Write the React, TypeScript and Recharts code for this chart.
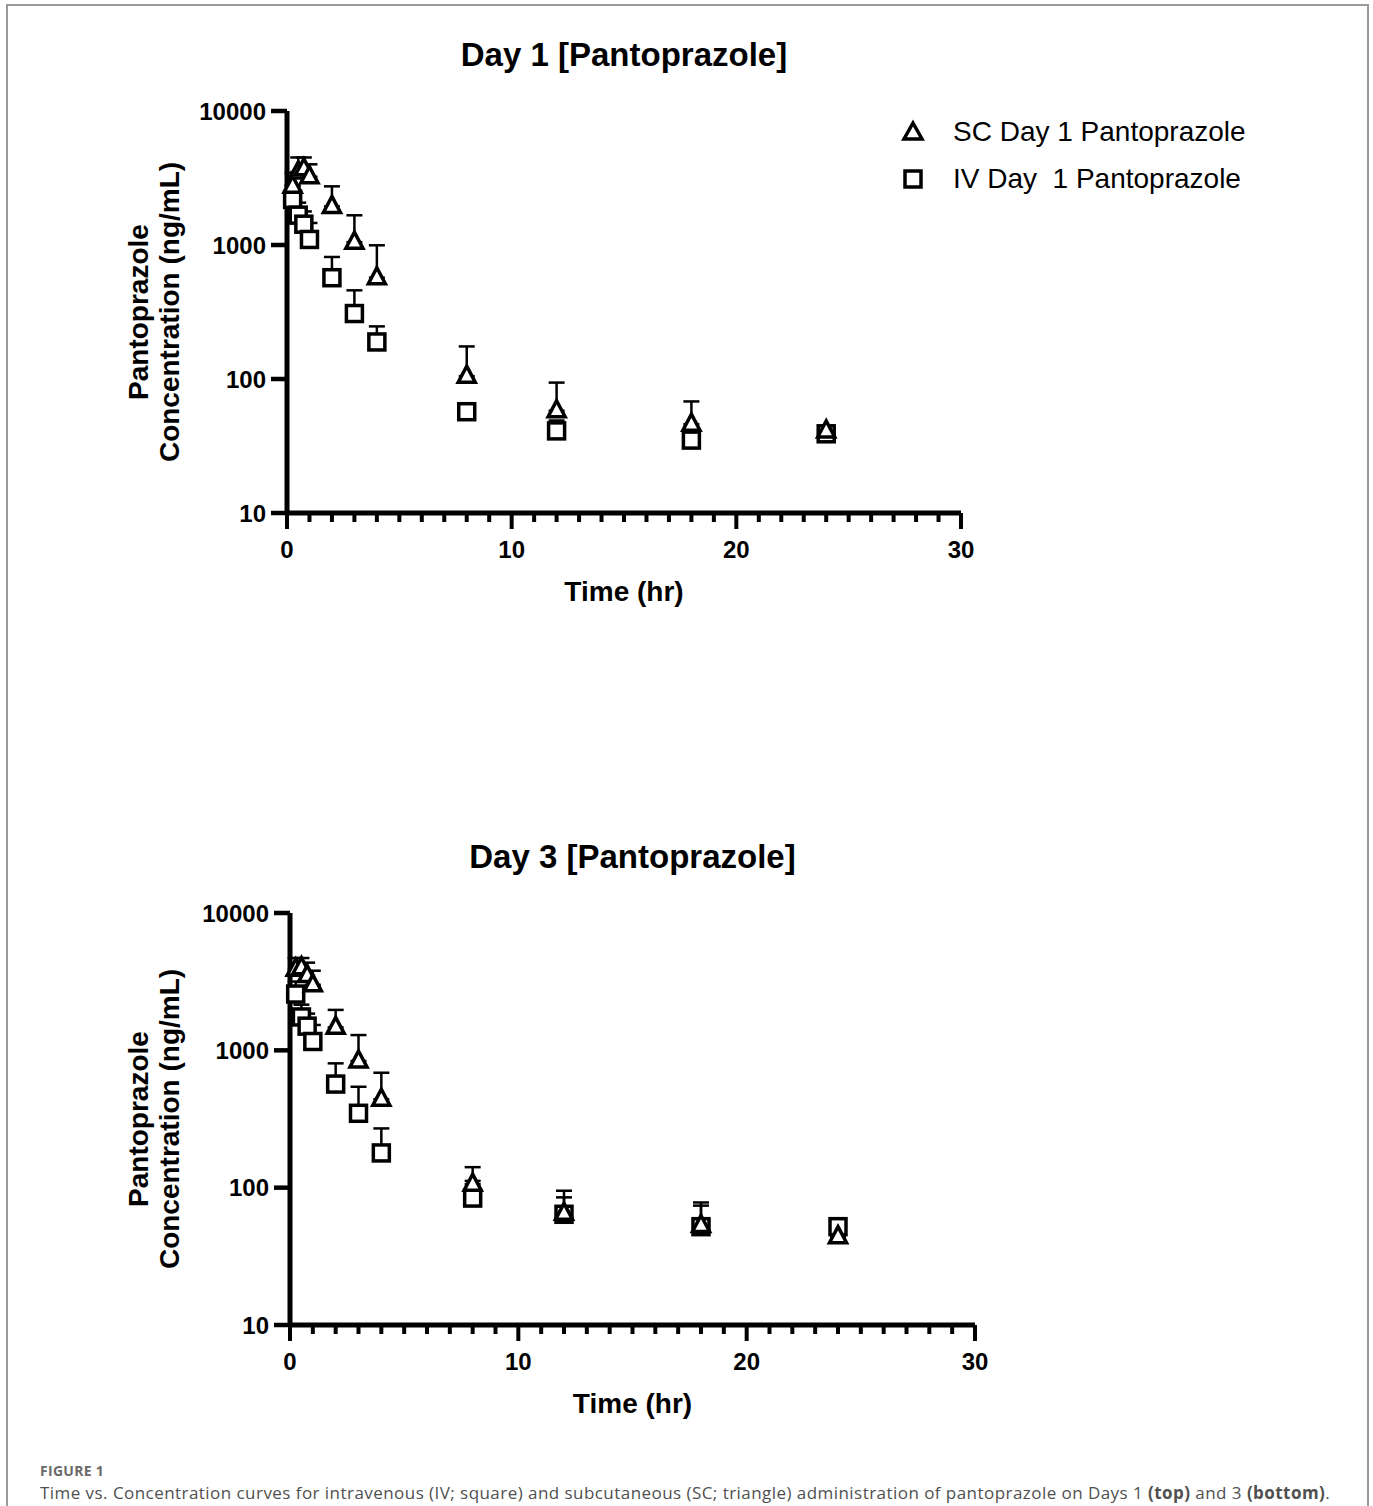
import React from "react";
import { ScatterChart, Scatter, XAxis, YAxis, ErrorBar } from "recharts";

// sampling times (hr)
const times = [0.25, 0.5, 0.75, 1, 2, 3, 4, 8, 12, 18, 24];

// Day 1 mean concentration (ng/mL) and upper SD
const day1Sc = [2750, 3500, 3700, 3230, 1940, 1050, 570, 105, 58, 46, 41];
const day1ScSd = [700, 1000, 800, 770, 800, 616, 425, 70, 36, 22, 3];
const day1Iv = [2190, 1670, 1430, 1100, 570, 308, 189, 57, 41, 35, 39];
const day1IvSd = [600, 400, 350, 360, 244, 151, 58, 5, 8, 5, 3];

// Day 3
const day3Sc = [3900, 4000, 3500, 3000, 1470, 836, 440, 106, 65, 53, 44];
const day3ScSd = [800, 700, 850, 800, 500, 456, 247, 35, 30, 25, 3];
const day3Iv = [2570, 1750, 1500, 1160, 568, 348, 179, 84, 64, 52, 52];
const day3IvSd = [600, 400, 350, 370, 236, 195, 91, 28, 21, 22, 3];

// axis ticks
const xTicks = [0, 1, 2, 3, 4, 5, 6, 7, 8, 9, 10, 11, 12, 13, 14, 15, 16, 17, 18, 19, 20, 21, 22, 23, 24, 25, 26, 27, 28, 29, 30];
const xMajorTicks = [0, 10, 20, 30];
const yTicks = [10, 100, 1000, 10000];

const FONT = '"Liberation Sans", Arial, Helvetica, sans-serif';
const W = 1373;
const H = 640;
const Y_AXIS_W = 200;
const X_AXIS_H = 100;

const toRows = (mean: number[], sd: number[]) =>
  times.map((t, i) => ({ t, v: mean[i], err: [0, sd[i]] }));

const Tri = ({ cx, cy }: any) => (
  <polygon
    points={`${cx},${cy - 10} ${cx + 8.5},${cy + 6} ${cx - 8.5},${cy + 6}`}
    fill="#fff"
    stroke="#000"
    strokeWidth={3.5}
  />
);

const Sq = ({ cx, cy }: any) => (
  <rect x={cx - 8} y={cy - 8} width={16} height={16} fill="#fff" stroke="#000" strokeWidth={3.5} />
);

const Nothing = () => <g />;

const XTick = ({ x, y, payload }: any) => {
  const major = xMajorTicks.includes(payload.value);
  return (
    <g>
      <line x1={x} y1={y} x2={x} y2={y + (major ? 16 : 9)} stroke="#000" strokeWidth={4} />
      {major && (
        <text
          x={x}
          y={y + 36}
          textAnchor="middle"
          dominantBaseline="central"
          fontFamily={FONT}
          fontWeight={700}
          fontSize={24}
          fill="#000"
        >
          {payload.value}
        </text>
      )}
    </g>
  );
};

interface PkProps {
  title: string;
  top: number;
  plotLeft: number;
  plotRight: number;
  plotTop: number;
  plotBottom: number;
  sc: number[];
  scSd: number[];
  iv: number[];
  ivSd: number[];
  scName: string;
  ivName: string;
  legendX: number;
  legendY: number;
}

function PkChart({
  title,
  top,
  plotLeft,
  plotRight,
  plotTop,
  plotBottom,
  sc,
  scSd,
  iv,
  ivSd,
  scName,
  ivName,
  legendX,
  legendY,
}: PkProps) {
  const scRows = toRows(sc, scSd);
  const ivRows = toRows(iv, ivSd);
  const midX = (plotLeft + plotRight) / 2;

  return (
    <div style={{ position: "absolute", left: 0, top, width: W, height: H }}>
      <div
        style={{
          position: "absolute",
          left: midX - 300,
          width: 600,
          top: plotTop - 78,
          height: 44,
          lineHeight: "44px",
          textAlign: "center",
          fontFamily: FONT,
          fontWeight: 700,
          fontSize: 33,
          color: "#000",
        }}
      >
        {title}
      </div>

      <ScatterChart
        width={W}
        height={H}
        margin={{
          top: plotTop,
          left: plotLeft - Y_AXIS_W,
          right: W - plotRight,
          bottom: H - plotBottom - X_AXIS_H,
        }}
      >
        <XAxis
          type="number"
          dataKey="t"
          domain={[0, 30]}
          ticks={xTicks}
          interval={0}
          height={X_AXIS_H}
          tickSize={0}
          tickMargin={0}
          tickLine={false}
          tick={<XTick />}
          axisLine={{ stroke: "#000", strokeWidth: 5 }}
          label={(p: any) => (
            <text
              x={p.viewBox.x + p.viewBox.width / 2}
              y={p.viewBox.y + 78}
              textAnchor="middle"
              dominantBaseline="central"
              fontFamily={FONT}
              fontWeight={700}
              fontSize={28}
              fill="#000"
            >
              Time (hr)
            </text>
          )}
        />
        <YAxis
          type="number"
          dataKey="v"
          scale="log"
          domain={[10, 10000]}
          ticks={yTicks}
          allowDataOverflow
          width={Y_AXIS_W}
          tickSize={16}
          tickMargin={5}
          tickLine={{ stroke: "#000", strokeWidth: 4.5 }}
          axisLine={{ stroke: "#000", strokeWidth: 5 }}
          tick={{ fontFamily: FONT, fontWeight: 700, fontSize: 24, fill: "#000" }}
          label={(p: any) => {
            const cy = p.viewBox.y + p.viewBox.height / 2;
            return (
              <g fontFamily={FONT} fontWeight={700} fontSize={28} fill="#000">
                <text transform={`translate(138,${cy}) rotate(-90)`} textAnchor="middle" dominantBaseline="central">
                  Pantoprazole
                </text>
                <text transform={`translate(169,${cy}) rotate(-90)`} textAnchor="middle" dominantBaseline="central">
                  Concentration (ng/mL)
                </text>
              </g>
            );
          }}
        />
        <Scatter name={`${scName} sd`} data={scRows} shape={<Nothing />} isAnimationActive={false}>
          <ErrorBar dataKey="err" direction="y" width={8} stroke="#000" strokeWidth={2.5} />
        </Scatter>
        <Scatter name={`${ivName} sd`} data={ivRows} shape={<Nothing />} isAnimationActive={false}>
          <ErrorBar dataKey="err" direction="y" width={8} stroke="#000" strokeWidth={2.5} />
        </Scatter>
        <Scatter name={ivName} data={ivRows} shape={<Sq />} isAnimationActive={false} />
        <Scatter name={scName} data={scRows} shape={<Tri />} isAnimationActive={false} />
      </ScatterChart>

      {/* legend */}
      <div style={{ position: "absolute", left: legendX - 15, top: legendY - 20, fontFamily: FONT, fontSize: 28 }}>
        <div style={{ display: "flex", alignItems: "center", height: 40 }}>
          <svg width={30} height={30}>
            <polygon points="15,6 24,22 6,22" fill="#fff" stroke="#000" strokeWidth={3.5} />
          </svg>
          <span style={{ marginLeft: 25, whiteSpace: "pre" }}>{scName}</span>
        </div>
        <div style={{ display: "flex", alignItems: "center", height: 40, marginTop: 7 }}>
          <svg width={30} height={30}>
            <rect x={7} y={7} width={16} height={16} fill="#fff" stroke="#000" strokeWidth={3.5} />
          </svg>
          <span style={{ marginLeft: 25, whiteSpace: "pre" }}>{ivName}</span>
        </div>
      </div>
    </div>
  );
}

export default function App() {
  return (
    <div
      style={{
        position: "absolute",
        left: 0,
        top: 0,
        width: W,
        height: 1506,
        overflow: "hidden",
        background: "#fff",
      }}
    >
      <div
        style={{
          position: "absolute",
          left: 6,
          top: 4,
          width: 1359,
          height: 1600,
          border: "2px solid #9a9a9a",
        }}
      />
      <PkChart
        title="Day 1 [Pantoprazole]"
        top={0}
        plotLeft={287}
        plotRight={961}
        plotTop={111}
        plotBottom={513}
        sc={day1Sc}
        scSd={day1ScSd}
        iv={day1Iv}
        ivSd={day1IvSd}
        scName="SC Day 1 Pantoprazole"
        ivName="IV Day  1 Pantoprazole"
        legendX={913}
        legendY={132}
      />
      <PkChart
        title="Day 3 [Pantoprazole]"
        top={800}
        plotLeft={290}
        plotRight={975}
        plotTop={113}
        plotBottom={525}
        sc={day3Sc}
        scSd={day3ScSd}
        iv={day3Iv}
        ivSd={day3IvSd}
        scName="SC Day 3 Pantoprazole"
        ivName="IV Day 3 Pantoprazole"
        legendX={911}
        legendY={999}
      />
      <div
        style={{
          position: "absolute",
          left: 40,
          top: 1462,
          lineHeight: "18px",
          fontFamily: '"Open Sans", sans-serif',
          fontWeight: 700,
          fontSize: 14,
          color: "#6a6a6a",
          letterSpacing: 0.3,
        }}
      >
        FIGURE 1
      </div>
      <div
        style={{
          position: "absolute",
          left: 40,
          top: 1483,
          height: 20,
          lineHeight: "20px",
          fontFamily: '"Open Sans", sans-serif',
          fontSize: 17,
          letterSpacing: 0.45,
          color: "#505050",
          whiteSpace: "nowrap",
        }}
      >
        Time vs. Concentration curves for intravenous (IV; square) and subcutaneous (SC; triangle) administration of
        pantoprazole on Days 1 <b>(top)</b> and 3 <b>(bottom)</b>.
      </div>
    </div>
  );
}
